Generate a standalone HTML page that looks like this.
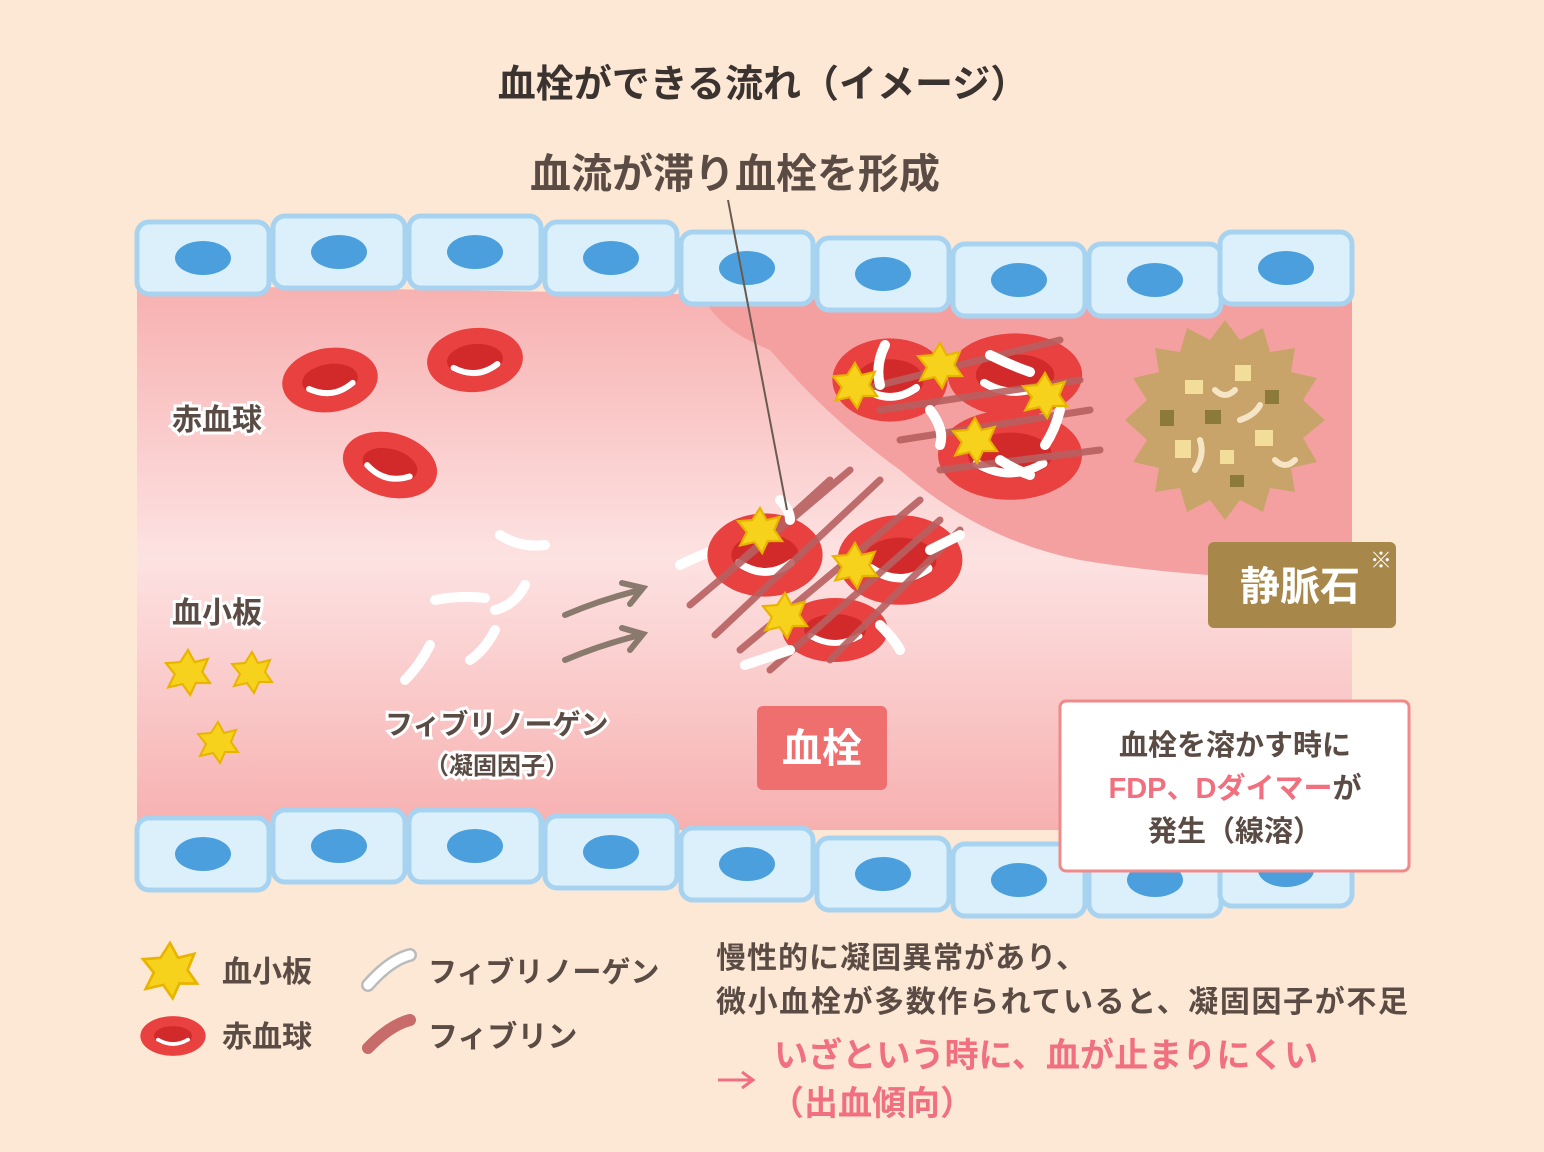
<!DOCTYPE html>
<html><head><meta charset="utf-8"><style>
html,body{margin:0;padding:0;background:#fde8d5;}
svg{display:block;}
text{font-family:"Liberation Sans","Noto Sans CJK JP",sans-serif;}
</style></head><body>
<svg width="1544" height="1152" viewBox="0 0 1544 1152" xmlns="http://www.w3.org/2000/svg">
<defs>
<linearGradient id="lum" x1="0" y1="0" x2="0" y2="1">
<stop offset="0" stop-color="#f7b0b0"/><stop offset="0.5" stop-color="#fde2e2"/><stop offset="1" stop-color="#f7b0b0"/>
</linearGradient>
<g id="rbc"><ellipse cx="0" cy="0" rx="48" ry="32" fill="#e8413f"/><ellipse cx="0" cy="0" rx="28" ry="16" fill="#d22a2a"/><path d="M-22,6 Q0,20 22,6" stroke="#fff" stroke-width="6" fill="none" stroke-linecap="round"/></g>
<g id="plt"><path d="M0,-20 L6,-9 L18,-12 L13,0 L20,10 L7,10 L2,21 L-5,11 L-18,14 L-12,2 L-20,-8 L-7,-9 Z" fill="#f7d21c" stroke="#e8b400" stroke-width="2"/></g>
<g id="cell"><rect x="0" y="0" width="132" height="72" rx="12" fill="#dcf0fc" stroke="#a7d3f0" stroke-width="5"/><ellipse cx="66" cy="36" rx="28" ry="17" fill="#4b9fdc"/></g>
</defs>
<rect width="1544" height="1152" fill="#fde8d5"/>
<text x="763" y="97" font-size="38" font-weight="bold" fill="#3a3330" text-anchor="middle">血栓ができる流れ（イメージ）</text>
<text x="735" y="188" font-size="41" font-weight="bold" fill="#5a4c44" text-anchor="middle">血流が滞り血栓を形成</text>
<path d="M137,285 L1352,305 L1352,830 L137,830 Z" fill="url(#lum)"/>
<path d="M705,300 Q720,330 770,350 Q830,420 900,470 Q980,540 1080,560 Q1200,580 1352,580 L1352,300 Z" fill="#f4a0a0"/>
<use href="#cell" x="137" y="222"/><use href="#cell" x="273" y="216"/><use href="#cell" x="409" y="216"/><use href="#cell" x="545" y="222"/><use href="#cell" x="681" y="232"/><use href="#cell" x="817" y="238"/><use href="#cell" x="953" y="244"/><use href="#cell" x="1089" y="244"/><use href="#cell" x="1220" y="232"/>
<use href="#cell" x="137" y="818"/><use href="#cell" x="273" y="810"/><use href="#cell" x="409" y="810"/><use href="#cell" x="545" y="816"/><use href="#cell" x="681" y="828"/><use href="#cell" x="817" y="838"/><use href="#cell" x="953" y="844"/><use href="#cell" x="1089" y="844"/><use href="#cell" x="1220" y="834"/>
<use href="#rbc" transform="translate(330,380) rotate(-8)"/>
<use href="#rbc" transform="translate(475,360) rotate(-5)"/>
<use href="#rbc" transform="translate(390,465) rotate(15)"/>
<g font-size="30" font-weight="bold" fill="#5a4c44" stroke="#fff" stroke-width="6" paint-order="stroke">
<text x="172" y="430">赤血球</text><text x="172" y="623">血小板</text>
<text x="385" y="734" font-size="28">フィブリノーゲン</text><text x="425" y="774" font-size="24">（凝固因子）</text>
</g>
<use href="#plt" transform="translate(188,672) scale(1.1)"/><use href="#plt" transform="translate(252,672)"/><use href="#plt" transform="translate(218,742)"/>
<g stroke="#fff" stroke-width="10" stroke-linecap="round" fill="none">
<path d="M500,535 Q520,548 545,545"/><path d="M435,600 Q460,595 485,598"/><path d="M495,610 Q515,605 525,585"/><path d="M405,680 Q420,665 430,645"/><path d="M470,660 Q485,650 495,630"/><path d="M680,565 Q700,555 715,550"/>
</g>
<g stroke="#8a7a6e" stroke-width="6" fill="none" stroke-linecap="round">
<path d="M565,615 Q600,600 640,590"/><path d="M622,583 L643,588 L630,604"/>
<path d="M565,660 Q600,645 640,635"/><path d="M622,628 L643,634 L630,650"/>
</g>
<use href="#rbc" transform="translate(765,555) scale(1.2,1.3)"/>
<use href="#rbc" transform="translate(900,560) scale(1.3,1.4)"/>
<use href="#rbc" transform="translate(835,630) scale(1.1,1.0)"/>
<use href="#rbc" transform="translate(890,380) scale(1.2,1.3)"/>
<use href="#rbc" transform="translate(1015,375) scale(1.4,1.3)"/>
<use href="#rbc" transform="translate(1010,455) scale(1.5,1.4)"/>
<g stroke="#b86060" stroke-width="7" stroke-linecap="round" fill="none" opacity="0.9">
<path d="M690,605 L850,470"/><path d="M715,635 L880,480"/><path d="M740,650 L920,500"/><path d="M770,670 L940,520"/><path d="M830,660 L960,530"/><path d="M720,580 L830,480"/>
<path d="M860,390 L1060,340"/><path d="M880,410 L1080,380"/><path d="M900,440 L1090,410"/><path d="M940,470 L1100,450"/>
</g>
<g stroke="#fff" stroke-width="10" stroke-linecap="round" fill="none">
<path d="M885,345 Q875,365 880,385"/><path d="M930,410 Q945,430 940,445"/><path d="M990,355 Q1010,365 1030,372"/><path d="M1060,410 Q1055,430 1045,445"/><path d="M1000,460 Q1015,470 1030,475"/>
<path d="M745,665 Q760,660 790,650"/><path d="M880,625 Q895,640 900,650"/><path d="M930,550 Q950,540 960,535"/><path d="M780,500 Q790,510 790,520"/>
</g>
<use href="#plt" transform="translate(855,385) scale(1.1)"/><use href="#plt" transform="translate(940,365) scale(1.1)"/><use href="#plt" transform="translate(1045,395) scale(1.1)"/><use href="#plt" transform="translate(975,440) scale(1.1)"/>
<use href="#plt" transform="translate(760,530) scale(1.1)"/><use href="#plt" transform="translate(855,565) scale(1.1)"/><use href="#plt" transform="translate(785,615) scale(1.1)"/>
<line x1="728" y1="200" x2="787" y2="510" stroke="#6a5a50" stroke-width="2"/>
<g transform="translate(1225,420)">
<path d="M0,-100 L15,-80 L38,-92 L45,-68 L70,-72 L66,-48 L92,-42 L78,-20 L100,0 L78,18 L92,42 L66,48 L70,72 L45,68 L38,92 L15,80 L0,100 L-15,80 L-38,92 L-45,68 L-70,72 L-66,48 L-92,42 L-78,20 L-100,0 L-78,-20 L-92,-42 L-66,-48 L-70,-72 L-45,-68 L-38,-92 L-15,-80 Z" fill="#c9a46a"/>
<g fill="#f3dd9a"><rect x="-40" y="-40" width="18" height="14"/><rect x="10" y="-55" width="16" height="16"/><rect x="30" y="10" width="18" height="16"/><rect x="-50" y="20" width="16" height="18"/><rect x="-5" y="30" width="14" height="14"/></g>
<g fill="#8c7a3a"><rect x="-20" y="-10" width="16" height="14"/><rect x="40" y="-30" width="14" height="14"/><rect x="-65" y="-10" width="14" height="16"/><rect x="5" y="55" width="14" height="12"/></g>
<g stroke="#f6e5c5" stroke-width="6" fill="none" stroke-linecap="round"><path d="M-10,-30 Q0,-20 10,-30"/><path d="M-30,50 Q-20,35 -25,20"/><path d="M15,0 Q30,-5 35,-15"/><path d="M50,40 Q60,50 70,40"/></g>
</g>
<rect x="1208" y="542" width="188" height="86" rx="6" fill="#a8884a"/>
<text x="1300" y="600" font-size="40" font-weight="bold" fill="#fff" text-anchor="middle">静脈石</text>
<text x="1381" y="568" font-size="22" fill="#fff" text-anchor="middle">※</text>
<rect x="757" y="706" width="130" height="84" rx="6" fill="#ef6f6f"/>
<text x="822" y="762" font-size="40" font-weight="bold" fill="#fff" text-anchor="middle">血栓</text>
<rect x="1060" y="701" width="349" height="170" rx="6" fill="#fff" stroke="#f08a8a" stroke-width="3"/>
<g font-size="29" font-weight="bold" text-anchor="middle">
<text x="1235" y="755" fill="#5a4c44">血栓を溶かす時に</text>
<text x="1235" y="798" fill="#f07080">FDP、Dダイマー<tspan fill="#5a4c44">が</tspan></text>
<text x="1235" y="841" fill="#5a4c44">発生（線溶）</text>
</g>
<use href="#plt" transform="translate(170,970) scale(1.35)"/>
<use href="#rbc" transform="translate(173,1036) scale(0.68,0.62)"/>
<path d="M368,985 Q390,960 410,955" stroke="#bbb" stroke-width="14" stroke-linecap="round" fill="none"/>
<path d="M368,985 Q390,960 410,955" stroke="#fff" stroke-width="9" stroke-linecap="round" fill="none"/>
<path d="M368,1048 Q390,1025 410,1020" stroke="#c86b6b" stroke-width="12" stroke-linecap="round" fill="none"/>
<g font-size="30" font-weight="bold" fill="#5a4c44">
<text x="222" y="982">血小板</text><text x="222" y="1047">赤血球</text>
<text x="428" y="982" font-size="29">フィブリノーゲン</text><text x="428" y="1047">フィブリン</text>
</g>
<g font-size="30" font-weight="bold" fill="#5a4c44">
<text x="716" y="968" textLength="370">慢性的に凝固異常があり、</text>
<text x="716" y="1012" textLength="692">微小血栓が多数作られていると、凝固因子が不足</text>
</g>
<g font-weight="bold" fill="#f07080">
<line x1="718" y1="1080" x2="752" y2="1080" stroke="#f07080" stroke-width="3"/>
<path d="M742,1072 L753,1080 L742,1088" stroke="#f07080" stroke-width="3" fill="none"/>
<text x="774" y="1067" font-size="34" textLength="544">いざという時に、血が止まりにくい</text>
<text x="770" y="1115" font-size="34">（出血傾向）</text>
</g>
</svg>
</body></html>
